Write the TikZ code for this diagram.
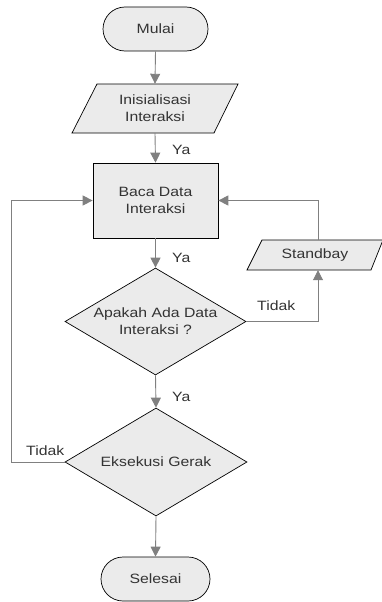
\documentclass[tikz,border=0pt]{standalone}
\usepackage{fontspec}
\setmainfont{Liberation Sans}[FakeStretch=1.17]
\usetikzlibrary{shapes.geometric,shapes.misc,arrows.meta,calc}
\definecolor{boxfill}{HTML}{EBEBEB}
\definecolor{linegray}{HTML}{808080}
\definecolor{txt}{HTML}{333333}
\begin{document}
\begin{tikzpicture}[x=1pt,y=-1pt,
  every node/.style={font=\fontsize{13.5}{17}\selectfont, text=txt, align=center},
  term/.style={rounded rectangle, draw=black, fill=boxfill, line width=0.7pt, inner sep=0pt},
  procbox/.style={rectangle, draw=black, fill=boxfill, line width=0.7pt, inner sep=0pt},
  decision/.style={diamond, draw=black, fill=boxfill, line width=0.7pt, inner sep=0pt, aspect=1.7},
  ioshape/.style={draw=black, fill=boxfill, line width=0.7pt},
  plain/.style={inner sep=0pt},
  conn/.style={draw=linegray, line width=0.9pt, -{Triangle[length=10pt,width=10pt]}},
  connplain/.style={draw=linegray, line width=0.9pt},
  lbl/.style={inner sep=0pt, anchor=west}
]
\useasboundingbox (0,0) rectangle (382,602);

% Mulai
\node[term, minimum width=105, minimum height=44] (mulai) at (155.5,29) {Mulai};

% Inisialisasi (parallelogram)
\path[ioshape] (97,84) -- (238,84) -- (214,133) -- (72,133) -- cycle;
\node[plain, minimum width=142, minimum height=49] (ini) at (155,108.5) {Inisialisasi\\Interaksi};

% Baca Data
\node[procbox, minimum width=125, minimum height=75] (baca) at (155.5,200.5) {Baca Data\\Interaksi};

% Decision 1
\node[decision, minimum width=181, minimum height=107] (d1) at (155.5,321.5) {Apakah Ada Data\\Interaksi ?};

% Standbay (parallelogram)
\path[ioshape] (262,240) -- (383,240) -- (371,270) -- (247,270) -- cycle;
\node[plain, minimum width=112, minimum height=30] (stand) at (315,255) {Standbay};

% Decision 2
\node[decision, minimum width=182, minimum height=108] (d2) at (156,462) {Eksekusi Gerak};

% Selesai
\node[term, minimum width=109, minimum height=44] (selesai) at (155.5,579) {Selesai};

% helper coordinates
\coordinate (sx) at (318,0);
\coordinate (lx) at (11,0);

% connectors
\draw[conn] (mulai.south) -- (ini.north);
\draw[conn] (ini.south) -- (baca.north);
\draw[conn] (baca.south) -- (d1.north);
\draw[conn] (d1.south) -- (d2.north);
\draw[conn] (d2.south) -- (selesai.north);

\draw[conn] (d1.east) -| (sx |- stand.south);
\draw[conn] (sx |- stand.north) |- (baca.east);
\draw[conn] (d2.west) -| (lx |- baca.west) -- (baca.west);

% labels
\node[lbl] (ya1) at (172,150) {Ya};
\node[lbl] (ya2) at (172,258) {Ya};
\node[lbl] (ya3) at (172,397) {Ya};
\node[lbl] (tidak1) at (257,306) {Tidak};
\node[lbl] (tidak2) at (26,451) {Tidak};
\end{tikzpicture}
\end{document}
